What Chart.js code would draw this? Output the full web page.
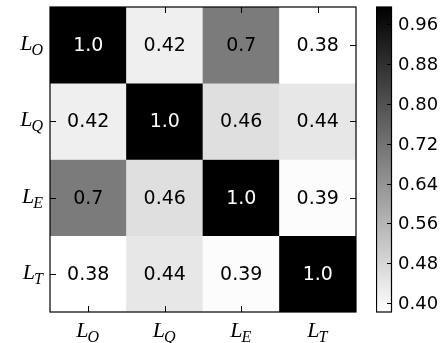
<!DOCTYPE html>
<html>
<head>
<meta charset="utf-8">
<script src="https://cdn.jsdelivr.net/npm/chart.js@4"></script>
<style>
  body { margin: 0; background: #fff; }
  #wrap { position: relative; width: 444px; height: 343px; }
  canvas { position: absolute; top: 0; }
</style>
</head>
<body>
<div id="wrap">
  <canvas id="heat" width="444" height="343" style="left:0"></canvas>
  <canvas id="bar" width="68" height="343" style="left:376px"></canvas>
</div>
<script>
// rows/cols are the same variables
const names = ["O", "Q", "E", "T"]
const rowO = [1.0, 0.42, 0.7, 0.38]
const rowQ = [0.42, 1.0, 0.46, 0.44]
const rowE = [0.7, 0.46, 1.0, 0.39]
const rowT = [0.38, 0.44, 0.39, 1.0]
const rows = [rowO, rowQ, rowE, rowT]
const cbTicks = [0.40, 0.48, 0.56, 0.64, 0.72, 0.80, 0.88, 0.96]
const cbMin = 0.382
const cbMax = 0.995

function shade(v) {
  let t = (v - cbMin) / (cbMax - cbMin)
  t = Math.max(0, Math.min(1, t))
  let g = Math.round((1 - t) * 255)
  return "rgb(" + g + "," + g + "," + g + ")"
}

function cellText(v) {
  return Number.isInteger(v) ? v.toFixed(1) : String(v)
}

// draws "L" with an italic subscript, centered or right aligned at x
function mathLabel(ctx, sub, x, y, align) {
  ctx.font = "italic 22px 'Liberation Serif'"
  let wL = ctx.measureText("L").width
  ctx.font = "italic 16px 'Liberation Serif'"
  let wS = ctx.measureText(sub).width
  let total = wL + wS
  let x0 = align == "right" ? x - total : x - total / 2
  ctx.textAlign = "left"
  ctx.textBaseline = "alphabetic"
  ctx.fillStyle = "#000"
  ctx.font = "italic 22px 'Liberation Serif'"
  ctx.fillText("L", x0, y)
  ctx.font = "italic 16px 'Liberation Serif'"
  ctx.fillText(sub, x0 + wL - 1, y + 5)
}

const heatDecor = {
  id: "heatDecor",
  afterDatasetsDraw(chart) {
    const ctx = chart.ctx
    const a = chart.chartArea
    const xs = chart.scales.x
    const ys = chart.scales.y
    ctx.save()
    // numbers in cells
    ctx.font = "19px 'DejaVu Sans'"
    ctx.textAlign = "center"
    ctx.textBaseline = "middle"
    rows.forEach((row, r) => {
      row.forEach((v, c) => {
        let t = (v - cbMin) / (cbMax - cbMin)
        ctx.fillStyle = t > 0.6 ? "#fff" : "#000"
        ctx.fillText(cellText(v), xs.getPixelForValue(c), ys.getPixelForValue(r + 0.5) + 1)
      })
    })
    // frame
    ctx.strokeStyle = "#000"
    ctx.lineWidth = 1.2
    ctx.strokeRect(a.left, a.top, a.right - a.left, a.bottom - a.top)
    // inward ticks
    ctx.lineWidth = 1
    names.forEach((n, i) => {
      let px = Math.round(xs.getPixelForValue(i)) + 0.5
      let py = Math.round(ys.getPixelForValue(i + 0.5)) + 0.5
      ctx.beginPath()
      ctx.moveTo(px, a.bottom); ctx.lineTo(px, a.bottom - 6)
      ctx.moveTo(px, a.top); ctx.lineTo(px, a.top + 6)
      ctx.moveTo(a.left, py); ctx.lineTo(a.left + 6, py)
      ctx.moveTo(a.right, py); ctx.lineTo(a.right - 6, py)
      ctx.stroke()
      mathLabel(ctx, n, a.left - 6, ys.getPixelForValue(i + 0.5) + 5, "right")
      mathLabel(ctx, n, xs.getPixelForValue(i), a.bottom + 25, "center")
    })
    ctx.restore()
  }
}

new Chart(document.getElementById("heat"), {
  type: "bar",
  data: {
    labels: names,
    datasets: rows.map((row, r) => ({
      label: names[r],
      data: row.map(() => [r, r + 1]),
      backgroundColor: row.map(shade),
      borderWidth: 0,
      barPercentage: 1,
      categoryPercentage: 1,
      grouped: false
    }))
  },
  options: {
    responsive: false,
    animation: false,
    layout: { padding: { left: 50, top: 7, right: 88, bottom: 31 } },
    plugins: { legend: { display: false }, tooltip: { enabled: false } },
    scales: {
      x: { display: false },
      y: { display: false, min: 0, max: 4, reverse: true }
    }
  },
  plugins: [heatDecor]
})

const barDecor = {
  id: "barDecor",
  afterDatasetsDraw(chart) {
    const ctx = chart.ctx
    const a = chart.chartArea
    const ys = chart.scales.y
    ctx.save()
    ctx.strokeStyle = "#000"
    ctx.lineWidth = 1.2
    ctx.strokeRect(a.left + 0.5, a.top, a.right - a.left - 1, a.bottom - a.top)
    ctx.lineWidth = 1
    ctx.fillStyle = "#000"
    ctx.font = "18px 'DejaVu Sans'"
    ctx.textAlign = "left"
    ctx.textBaseline = "middle"
    cbTicks.forEach(v => {
      let py = Math.round(ys.getPixelForValue(v)) + 0.5
      ctx.beginPath()
      ctx.moveTo(a.right, py); ctx.lineTo(a.right - 5, py)
      ctx.stroke()
      ctx.fillText(v.toFixed(2), a.right + 6, py + 1)
    })
    ctx.restore()
  }
}

new Chart(document.getElementById("bar"), {
  type: "bar",
  data: {
    labels: [""],
    datasets: [{
      data: [[cbMin, cbMax]],
      backgroundColor: (c) => {
        const area = c.chart.chartArea
        if (!area) return "#888"
        const g = c.chart.ctx.createLinearGradient(0, area.top, 0, area.bottom)
        g.addColorStop(0, "#000")
        g.addColorStop(1, "#fff")
        return g
      },
      borderWidth: 0,
      barPercentage: 1,
      categoryPercentage: 1
    }]
  },
  options: {
    responsive: false,
    animation: false,
    layout: { padding: { left: 0, top: 7, right: 52, bottom: 31 } },
    plugins: { legend: { display: false }, tooltip: { enabled: false } },
    scales: {
      x: { display: false },
      y: { display: false, min: cbMin, max: cbMax }
    }
  },
  plugins: [barDecor]
})
</script>
</body>
</html>
